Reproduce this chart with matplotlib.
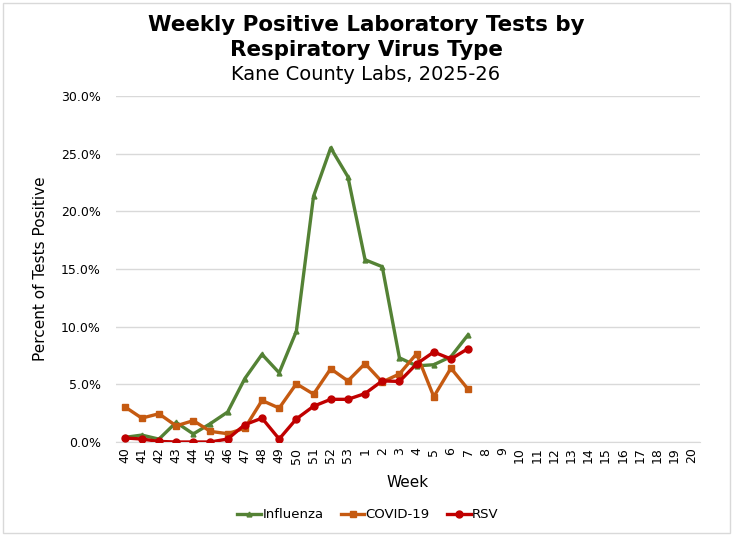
import matplotlib
matplotlib.use("Agg")
import matplotlib.pyplot as plt
from matplotlib.ticker import FuncFormatter, MultipleLocator
from matplotlib.patches import Rectangle

weeks = [str(w) for w in list(range(40, 54)) + list(range(1, 21))]
influenza = [0.4, 0.6, 0.25, 1.7, 0.7, 1.6, 2.6, 5.5, 7.6, 6.0, 9.6, 21.3, 25.5, 23.0,
             15.8, 15.2, 7.3, 6.6, 6.7, 7.4, 9.3]
covid = [3.07, 2.07, 2.45, 1.4, 1.85, 0.92, 0.72, 1.2, 3.6, 2.94, 5.05, 4.15, 6.35, 5.3,
         6.8, 5.2, 5.9, 7.65, 3.93, 6.4, 4.57]
rsv = [0.35, 0.26, 0.05, 0.0, 0.0, 0.0, 0.26, 1.5, 2.07, 0.26, 2.0, 3.1, 3.7, 3.7,
       4.2, 5.3, 5.25, 6.77, 7.8, 7.2, 8.1]

plt.rcParams['font.family'] = ['DejaVu Sans']

W, H = 736, 537
fig = plt.figure(figsize=(W / 100, H / 100), dpi=100)
ax = fig.add_axes([116 / W, 1 - 442 / H, (700 - 116) / W, (442 - 96) / H])

x = list(range(len(weeks)))
ax.plot(x[:len(influenza)], influenza, color='#548235', lw=2.4, marker='^', ms=3.5,
        label='Influenza', zorder=3)
ax.plot(x[:len(covid)], covid, color='#C55A11', lw=2.4, marker='s', ms=5,
        label='COVID-19', zorder=3)
ax.plot(x[:len(rsv)], rsv, color='#C00000', lw=2.4, marker='o', ms=5,
        label='RSV', zorder=4)

ax.set_xlim(-0.5, len(weeks) - 0.5)
ax.set_ylim(0, 30)
ax.yaxis.set_major_locator(MultipleLocator(5))
ax.yaxis.set_major_formatter(FuncFormatter(lambda v, p: f"{v:.1f}%"))
ax.set_xticks(x)
ax.set_xticklabels(weeks, rotation=90)
ax.grid(axis='y', color='#D9D9D9', lw=1)
ax.set_axisbelow(True)
for s in ['top', 'right', 'left']:
    ax.spines[s].set_visible(False)
ax.spines['bottom'].set_color('#D9D9D9')
ax.tick_params(axis='both', length=0, labelsize=9, colors='black')
ax.tick_params(axis='y', pad=11)
ax.tick_params(axis='x', pad=4)

ax.set_ylabel('Percent of Tests Positive', fontsize=11, labelpad=9)
ax.set_xlabel('Week', fontsize=11, labelpad=8)

fig.text(366 / W, 1 - 25 / H, 'Weekly Positive Laboratory Tests by', ha='center', va='center',
         fontsize=15.4, fontweight='bold')
fig.text(366 / W, 1 - 50 / H, 'Respiratory Virus Type', ha='center', va='center',
         fontsize=15.4, fontweight='bold')
fig.text(366 / W, 1 - 75 / H, 'Kane County Labs, 2025-26', ha='center', va='center',
         fontsize=14)

fig.legend(loc='center', bbox_to_anchor=(368 / W, 1 - 515 / H), ncol=3, frameon=False,
           fontsize=9.5, handlelength=1.8, handletextpad=0.1, columnspacing=1.3)

fig.patches.append(Rectangle((3 / W, 4 / H), (730 - 3) / W, (534 - 4) / H,
                             transform=fig.transFigure, fill=False,
                             edgecolor='#D9D9D9', lw=1))

fig.savefig('out.png', dpi=100)
